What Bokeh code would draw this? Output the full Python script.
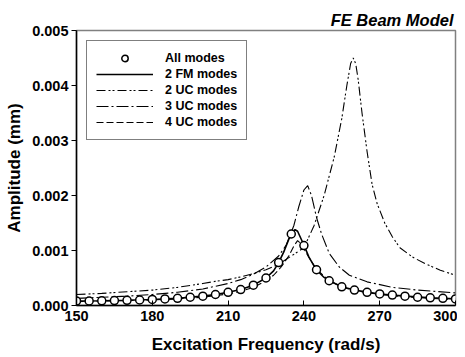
from bokeh.plotting import figure
from bokeh.models import Range1d, NumeralTickFormatter, Legend, LegendItem, FixedTicker
from bokeh.embed import file_html
from bokeh.resources import INLINE

# ---- data ----
all_f = [150, 155, 160, 165, 170, 175, 180, 185, 190, 195, 200, 205, 210, 215, 220,
         225, 230, 235, 240, 245, 250, 255, 260, 265, 270, 275, 280, 285, 290, 295, 300]
all_a = [0.00008, 0.000082, 0.000086, 0.00009, 0.000095, 0.0001, 0.00011, 0.00012,
         0.00013, 0.00015, 0.00017, 0.0002, 0.00024, 0.00029, 0.00037, 0.0005, 0.00078,
         0.0013, 0.00109, 0.00065, 0.00045, 0.00034, 0.00028, 0.00024, 0.00021, 0.00019,
         0.00017, 0.00015, 0.00014, 0.00013, 0.00012]

fm2_f = [150, 160, 170, 180, 190, 200, 205, 210, 215, 220, 225, 228, 230, 232, 234,
         235.5, 236.5, 237.5, 239, 240, 242, 244, 246, 248, 250, 255, 260, 270, 280, 290, 300]
fm2_a = [0.00008, 0.000086, 0.000095, 0.00011, 0.00013, 0.00017, 0.0002, 0.00024,
         0.00029, 0.00037, 0.0005, 0.00063, 0.00078, 0.00097, 0.0012, 0.00133, 0.00138,
         0.00135, 0.0012, 0.0011, 0.00088, 0.00072, 0.0006, 0.00051, 0.00045, 0.00034,
         0.00028, 0.00021, 0.00017, 0.00014, 0.00012]

uc2_f = [150, 160, 170, 180, 190, 200, 205, 210, 215, 220, 225, 230, 235, 240, 244,
         248, 252, 255, 257, 258.5, 259.5, 260.5, 261.5, 263, 265, 267, 269, 272, 275,
         278, 283, 288, 294, 300]
uc2_a = [0.0002, 0.00022, 0.00025, 0.00028, 0.00033, 0.0004, 0.00044, 0.00047,
         0.00052, 0.00058, 0.00065, 0.00075, 0.0009, 0.00105, 0.00145, 0.002, 0.0027,
         0.0034, 0.004, 0.0044, 0.0045, 0.0044, 0.0041, 0.0035, 0.0028, 0.0022,
         0.00185, 0.0015, 0.00125, 0.00105, 0.00088, 0.00076, 0.00064, 0.00055]

uc3_f = [150, 160, 170, 180, 190, 200, 210, 215, 220, 225, 230, 233, 236, 238, 240,
         241.5, 243, 245, 247, 250, 254, 258, 265, 275, 285, 300]
uc3_a = [0.00013, 0.00015, 0.00017, 0.0002, 0.00024, 0.0003, 0.0004, 0.00047,
         0.00057, 0.0007, 0.0009, 0.0011, 0.00145, 0.0018, 0.0021, 0.00218, 0.002,
         0.0016, 0.0013, 0.00095, 0.0007, 0.00055, 0.00043, 0.00033, 0.00028, 0.00023]

uc4_f = [150, 160, 170, 180, 190, 200, 210, 215, 220, 225, 228, 231, 234, 236, 237.5,
         239, 241, 243, 245, 250, 255, 260, 270, 280, 290, 300]
uc4_a = [0.00007, 0.00008, 0.00009, 0.0001, 0.00012, 0.00015, 0.00021, 0.00026,
         0.00033, 0.00045, 0.00055, 0.0007, 0.0009, 0.00108, 0.00118, 0.00112, 0.00095,
         0.0008, 0.00066, 0.00045, 0.00034, 0.00027, 0.0002, 0.00016, 0.00013, 0.00011]

x_ticks = [150, 180, 210, 240, 270, 300]
y_ticks = [0.0, 0.001, 0.002, 0.003, 0.004, 0.005]

FONT = "Liberation Sans"

p = figure(width=457, height=357, output_backend="svg", toolbar_location=None,
           x_range=Range1d(150, 300), y_range=Range1d(0, 0.005),
           min_border_left=76, min_border_right=2, min_border_top=30, min_border_bottom=52)
p.title.text = "FE Beam Model"
p.title.align = "right"
p.title.text_font = FONT
p.title.text_font_style = "bold italic"
p.title.text_font_size = "16.5px"
p.title.text_color = "black"
p.title.standoff = 3
p.title.offset = 2

p.xgrid.visible = False
p.ygrid.visible = False
p.outline_line_color = "#808080"
p.outline_line_width = 1.5

# lines
r_uc2 = p.line(uc2_f, uc2_a, line_color="black", line_width=1.1, line_dash="9 3 2 2 2 3")
r_uc3 = p.line(uc3_f, uc3_a, line_color="black", line_width=1.1, line_dash="12 3 2 3")
r_uc4 = p.line(uc4_f, uc4_a, line_color="black", line_width=1.1, line_dash="7 3")
r_fm2 = p.line(fm2_f, fm2_a, line_color="black", line_width=1.6)
r_all = p.scatter(all_f, all_a, marker="circle", size=8, fill_color="white",
                  line_color="black", line_width=1.5)

legend = Legend(items=[
    LegendItem(label="All modes", renderers=[r_all]),
    LegendItem(label="2 FM modes", renderers=[r_fm2]),
    LegendItem(label="2 UC modes", renderers=[r_uc2]),
    LegendItem(label="3 UC modes", renderers=[r_uc3]),
    LegendItem(label="4 UC modes", renderers=[r_uc4]),
], location="top_left")
legend.margin = 10
legend.padding = 9
legend.spacing = 0
legend.glyph_width = 57
legend.glyph_height = 16
legend.label_height = 16
legend.label_standoff = 12
legend.label_text_font = FONT
legend.label_text_font_style = "bold"
legend.label_text_font_size = "12.5px"
legend.label_text_color = "black"
legend.border_line_color = "black"
legend.border_line_width = 1.2
legend.background_fill_alpha = 1.0
p.add_layout(legend)

for ax in (p.xaxis[0], p.yaxis[0]):
    ax.axis_line_color = "black"
    ax.axis_line_width = 1.5
    ax.major_tick_line_color = "black"
    ax.minor_tick_line_color = None
    ax.major_label_text_font = FONT
    ax.major_label_text_font_style = "bold"
    ax.major_label_text_font_size = "14.5px"
    ax.axis_label_text_font = FONT
    ax.axis_label_text_font_style = "bold"
    ax.axis_label_text_font_size = "17px"
    ax.major_label_text_color = "black"
    ax.axis_label_text_color = "black"

p.xaxis.ticker = FixedTicker(ticks=x_ticks)
p.xaxis.major_tick_in = 5
p.xaxis.major_tick_out = 0
p.xaxis.major_label_standoff = 5
p.xaxis.axis_label = "Excitation Frequency (rad/s)"
p.xaxis.axis_label_standoff = 11

p.yaxis.ticker = FixedTicker(ticks=y_ticks)
p.yaxis.formatter = NumeralTickFormatter(format="0.000")
p.yaxis.major_tick_in = 0
p.yaxis.major_tick_out = 5
p.yaxis.major_label_standoff = 3
p.yaxis.axis_label = "Amplitude (mm)"
p.yaxis.axis_label_standoff = 5

open("out.html", "w").write(file_html(p, INLINE))
